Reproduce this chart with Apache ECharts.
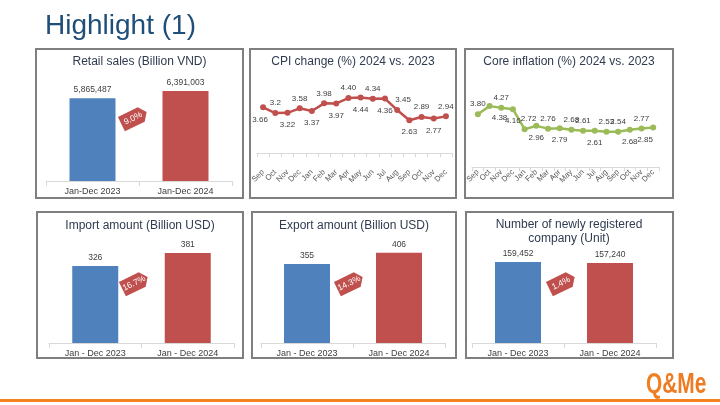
<!DOCTYPE html>
<html><head><meta charset="utf-8">
<script src="https://cdn.jsdelivr.net/npm/echarts@6/dist/echarts.min.js"></script>
<style>html,body{margin:0;padding:0;background:#fff}#c{width:720px;height:405px}</style>
</head><body><div id="c"></div>
<script>
// ---- data ----
const retailCats = ['Jan-Dec 2023', 'Jan-Dec 2024'];
const retailValues = [5865487, 6391003];
const tradeCats = ['Jan - Dec 2023', 'Jan - Dec 2024'];
const importValues = [326, 381];
const exportValues = [355, 406];
const companyValues = [159452, 157240];
const months = ['Sep','Oct','Nov','Dec','Jan','Feb','Mar','Apr','May','Jun','Jul','Aug','Sep','Oct','Nov','Dec'];
const cpiValues = [3.66, 3.2, 3.22, 3.58, 3.37, 3.98, 3.97, 4.40, 4.44, 4.34, 4.36, 3.45, 2.63, 2.89, 2.77, 2.94];
const coreValues = [3.80, 4.38, 4.27, 4.16, 2.72, 2.96, 2.76, 2.79, 2.68, 2.61, 2.61, 2.53, 2.54, 2.68, 2.77, 2.85];
const badgeTexts = ['9.0%', '16.7%', '14.3%', '1.4%'];
const panelTitles = ['Retail sales (Billion VND)', 'CPI change (%) 2024 vs. 2023', 'Core inflation (%) 2024 vs. 2023',
  'Import amount (Billion USD)', 'Export amount (Billion USD)', 'Number of newly registered\ncompany (Unit)'];

// ---- styles ----
const FONT = 'Liberation Sans, Arial, sans-serif';
const BLUE = '#4F81BD', RED = '#C0504D', GREEN = '#9BBB59';
const TXT = '#404040', TITLE = '#2F3B4F';
const barColors = [BLUE, RED];
const cpiSides = cpiValues.map((v, i) => i % 2 ? 'top' : 'bottom');
const cpiShiftX = [-3, 0, 0, 0, 0, 0, 0, 0, 0, 0, 0, 6, 0, 0, 0, 0];
const coreSides = ['top','bottom','top','bottom','top','bottom','top','bottom','top','top','bottom','top','top','bottom','top','bottom'];
const coreShiftX = [0, 10, 0, 0, 4, 0, 0, 0, 0, 0, 0, 0, 0, 0, 0, -8];

const chart = echarts.init(document.getElementById('c'), null, {renderer: 'canvas'});

const grids = [
  {left: 46, top: 82.3, width: 186, height: 98.7},   // retail
  {left: 257, top: 78, width: 195, height: 89},       // cpi
  {left: 472, top: 83.6, width: 187, height: 83.4},   // core
  {left: 49, top: 248.6, width: 185, height: 94.4},   // import
  {left: 261, top: 243, width: 184, height: 100},     // export
  {left: 472, top: 251.5, width: 184, height: 91.5}   // company
];

function barX(gi, cats) {
  return {type: 'category', gridIndex: gi, data: cats,
    axisLine: {lineStyle: {color: '#d9d9d9', width: 1}},
    axisTick: {show: true, length: 5, lineStyle: {color: '#d9d9d9'}},
    axisLabel: {color: TXT, fontSize: 9, fontFamily: FONT, margin: 6}};
}
function lineX(gi) {
  return {type: 'category', gridIndex: gi, data: months, boundaryGap: true,
    axisLine: {lineStyle: {color: '#d9d9d9', width: 1}},
    axisTick: {show: true, length: 4, lineStyle: {color: '#d9d9d9'}},
    axisLabel: {color: '#595959', fontSize: 7.8, fontFamily: FONT, rotate: 45, margin: 4, interval: 0}};
}
function yAx(gi, min, max) {
  return {type: 'value', gridIndex: gi, min: min, max: max, show: false, splitLine: {show: false}};
}
function barSeries(gi, values) {
  return {type: 'bar', xAxisIndex: gi, yAxisIndex: gi, barWidth: 46,
    data: values.map((v, i) => ({value: v, itemStyle: {color: barColors[i]}})),
    label: {show: true, position: 'top', distance: 4, color: TXT, fontSize: 8.5, fontFamily: FONT,
      formatter: p => p.value.toLocaleString('en-US')}};
}
function lineSeries(gi, values, sides, shifts, color, fmt) {
  return {type: 'line', xAxisIndex: gi, yAxisIndex: gi, symbol: 'circle', symbolSize: 6,
    lineStyle: {color: color, width: 2.5}, itemStyle: {color: color},
    data: values.map((v, i) => ({value: v, label: {position: sides[i], distance: sides[i] === 'top' ? 3 : 5,
      offset: [shifts[i], 0]}})),
    label: {show: true, color: TXT, fontSize: 8, fontFamily: FONT, formatter: fmt}};
}

const panels = [
  [36, 49, 207, 149], [250, 49, 206, 149], [465, 49, 208, 149],
  [37, 212, 206, 146], [252, 212, 204, 146], [466, 212, 207, 146]
];
const titlePos = [[139.5, 62], [353, 62], [569, 62], [140, 226], [354, 226], [569, 232]];
const badgePos = [[134, 118], [135, 283], [350, 283], [562, 283]];

const graphic = [];
panels.forEach(p => graphic.push({type: 'rect', shape: {x: p[0], y: p[1], width: p[2], height: p[3]},
  style: {fill: 'none', stroke: '#7F7F7F', lineWidth: 2}, z: 10}));
panelTitles.forEach((t, i) => graphic.push({type: 'text', x: titlePos[i][0], y: titlePos[i][1],
  style: {text: t, fill: TITLE, font: '12px ' + FONT, textAlign: 'center', textVerticalAlign: 'middle', lineHeight: 14}}));
badgeTexts.forEach((t, i) => graphic.push({type: 'group', x: badgePos[i][0], y: badgePos[i][1], rotation: 0.45, z: 20,
  children: [
    {type: 'polygon', shape: {points: [[-14, -8], [8, -8], [14, 0], [8, 8], [-14, 8]]}, style: {fill: RED}},
    {type: 'text', x: -1, y: 0, style: {text: t, fill: '#fff', font: '8.5px ' + FONT, textAlign: 'center', textVerticalAlign: 'middle'}}
  ]}));
graphic.push({type: 'text', x: 45, y: 26, style: {text: 'Highlight (1)', fill: '#1F4E79', font: '28px ' + FONT, textVerticalAlign: 'middle'}});
graphic.push({type: 'rect', shape: {x: 0, y: 399, width: 720, height: 3}, style: {fill: '#F58220'}});
graphic.push({type: 'group', x: 646, y: 385, scaleX: 0.72, children: [
  {type: 'text', x: 0, y: 0, style: {text: '{q|Q}{m|&Me}', font: 'bold 29px ' + FONT, textVerticalAlign: 'middle',
    rich: {q: {fill: '#F07F21', font: 'bold 29px ' + FONT}, m: {fill: '#EE7B22', font: 'bold 29px ' + FONT}}}}
]});

chart.setOption({
  animation: false,
  backgroundColor: '#fff',
  grid: grids,
  xAxis: [barX(0, retailCats), lineX(1), lineX(2), barX(3, tradeCats), barX(4, tradeCats), barX(5, tradeCats)],
  yAxis: [yAx(0, 0, 7000000), yAx(1, -1.1, 6), yAx(2, 0, 6), yAx(3, 0, 400), yAx(4, 0, 450), yAx(5, 0, 180000)],
  series: [
    barSeries(0, retailValues),
    lineSeries(1, cpiValues, cpiSides, cpiShiftX, RED, p => (p.value === 3.2 ? '3.2' : p.value.toFixed(2))),
    lineSeries(2, coreValues, coreSides, coreShiftX, GREEN, p => p.value.toFixed(2)),
    barSeries(3, importValues),
    barSeries(4, exportValues),
    barSeries(5, companyValues)
  ],
  graphic: graphic
});
</script></body></html>
